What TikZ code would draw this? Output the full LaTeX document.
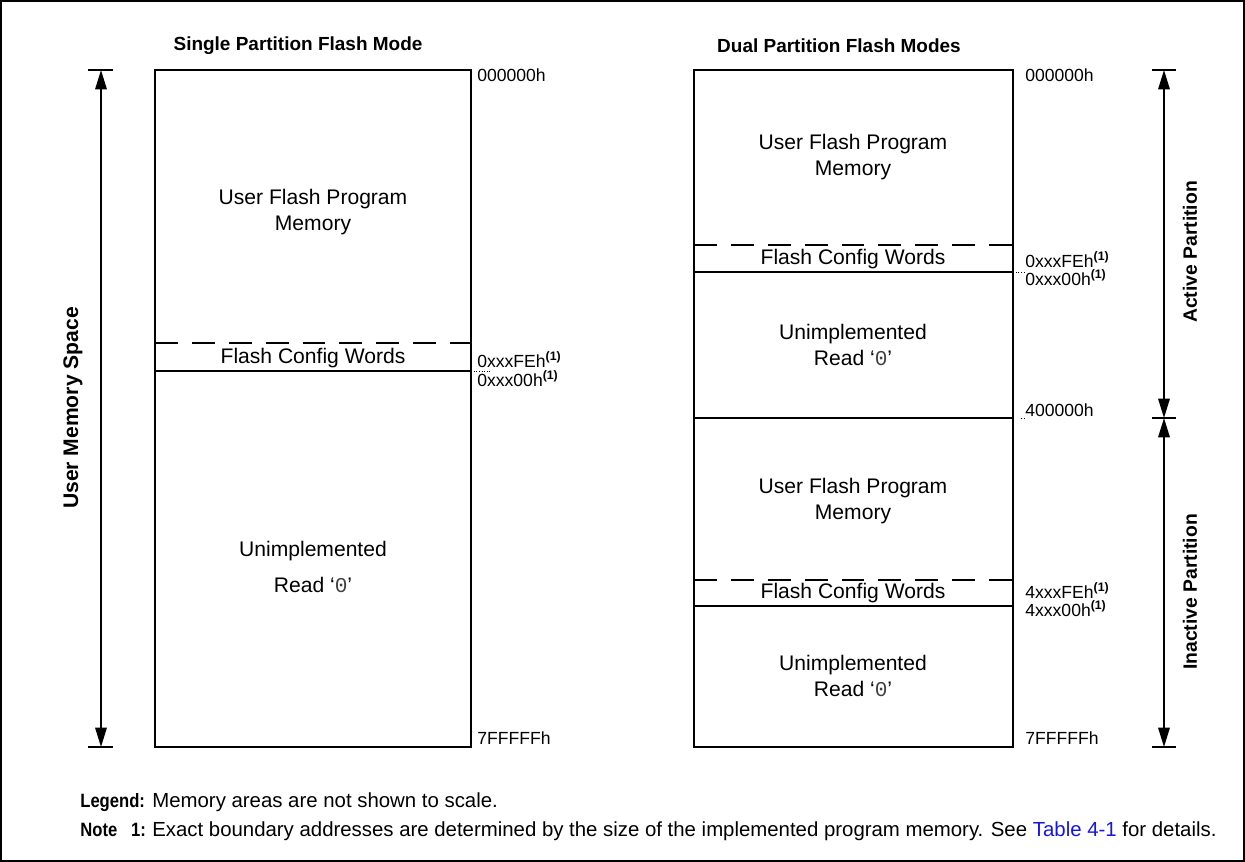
\documentclass[tikz,border=0pt]{standalone}
\usepackage{fontspec}
\setmainfont{Liberation Sans}
\newfontfamily\monofont{Liberation Mono}
\usepackage{xcolor}
\usepackage{graphicx}
\usetikzlibrary{arrows.meta}
\definecolor{linkblue}{RGB}{20,20,235}
\newcommand{\fnote}{\textsuperscript{\textbf{(1)}}}
\newcommand{\readzero}{Read `{\monofont\color{black!75}0}'}
\newcommand{\legkey}[1]{\scalebox{0.86}[1]{\textbf{#1}}}
\tikzset{
    memnode/.style = {align=center, inner sep=0pt, text centered},
    region_txt/.style = {memnode, font=\fontsize{12}{15}\selectfont},
    addr_txt/.style = {inner sep=0pt, anchor=base west, font=\fontsize{10}{12}\selectfont},
    title_txt/.style = {memnode, font=\bfseries\fontsize{10.8}{13}\selectfont},
    side_txt/.style = {memnode, rotate=90, font=\bfseries\fontsize{11}{13}\selectfont},
    legend_txt/.style = {inner sep=0pt, anchor=base west, font=\fontsize{11.6}{13}\selectfont},
    legend_key/.style = {legend_txt, font=\fontsize{11}{13}\selectfont},
    mem_box/.style = {draw=black, line width=1.1pt},
    cut_line/.style = {line width=1.1pt},
    cfg_line/.style = {line width=1.1pt, dash pattern=on 13pt off 8pt},
    leader/.style = {line width=0.5pt, densely dotted},
    span/.style = {line width=1.1pt, {Triangle[length=11pt,width=6.5pt]}-{Triangle[length=11pt,width=6.5pt]}},
    bar/.style = {line width=1.1pt}
}
\begin{document}
\begin{tikzpicture}[x=0.02cm, y=-0.02cm]
    \useasboundingbox (0,0) rectangle (1245,862);
    \draw[line width=0.8pt] (1,1) rectangle (1244,861);

    % titles
    \node[title_txt] (t_single) at (298,46) {Single Partition Flash Mode};
    \node[title_txt] (t_dual) at (839,46) {Dual Partition Flash Modes};

    % single partition map
    \draw[mem_box] (155,70) rectangle (471,747);
    \coordinate (s_cfg_w) at (155,343);
    \coordinate (s_cfg_e) at (471,343);
    \coordinate (s_top_w) at (155,371);
    \coordinate (s_top_e) at (471,371);
    \draw[cfg_line] (s_cfg_w) -- (s_cfg_e);
    \draw[cut_line] (s_top_w) -- (s_top_e);
    \node[region_txt] (s_user) at (313,212) {User Flash Program\\Memory};
    \node[region_txt] (s_cfg) at (313,358) {Flash Config Words};
    \node[region_txt] (s_unimp) at (313,551) {Unimplemented};
    \node[region_txt] (s_read) at (313,585) {\readzero};

    \node[addr_txt] (s_a0) at (477,81) {000000h};
    \node[addr_txt] (s_a1) at (477,367) {0xxxFEh\fnote};
    \node[addr_txt] (s_a2) at (477,386) {0xxx00h\fnote};
    \node[addr_txt] (s_a3) at (477,744) {7FFFFFh};
    \draw[leader] (s_top_e) -- (491,371);

    % user memory span
    \coordinate (u_top) at (101,70);
    \coordinate (u_bot) at (101,747);
    \draw[bar] (88,70) -- (113,70);
    \draw[bar] (88,747) -- (113,747);
    \draw[span] (u_top) -- (u_bot);
    \node[side_txt, font=\bfseries\fontsize{12}{14}\selectfont] (u_lbl) at (73,408) {User Memory Space};

    % dual partition map
    \draw[mem_box] (694,70) rectangle (1013,747);
    \coordinate (d_cfg1_w) at (694,245);
    \coordinate (d_cfg1_e) at (1013,245);
    \coordinate (d_top1_w) at (694,272);
    \coordinate (d_top1_e) at (1013,272);
    \coordinate (d_mid_w) at (694,418);
    \coordinate (d_mid_e) at (1013,418);
    \coordinate (d_cfg2_w) at (694,580);
    \coordinate (d_cfg2_e) at (1013,580);
    \coordinate (d_top2_w) at (694,606);
    \coordinate (d_top2_e) at (1013,606);
    \draw[cfg_line] (d_cfg1_w) -- (d_cfg1_e);
    \draw[cut_line] (d_top1_w) -- (d_top1_e);
    \draw[cut_line] (d_mid_w) -- (d_mid_e);
    \draw[cfg_line] (d_cfg2_w) -- (d_cfg2_e);
    \draw[cut_line] (d_top2_w) -- (d_top2_e);

    \node[region_txt] (d_user1) at (853,157) {User Flash Program\\Memory};
    \node[region_txt] (d_cfg1) at (853,259) {Flash Config Words};
    \node[region_txt] (d_unimp1) at (853,345) {Unimplemented\\\readzero};
    \node[region_txt] (d_user2) at (853,501) {User Flash Program\\Memory};
    \node[region_txt] (d_cfg2) at (853,593) {Flash Config Words};
    \node[region_txt] (d_unimp2) at (853,676) {Unimplemented\\\readzero};

    \node[addr_txt] (d_a0) at (1025,81) {000000h};
    \node[addr_txt] (d_a1) at (1025,267) {0xxxFEh\fnote};
    \node[addr_txt] (d_a2) at (1025,285) {0xxx00h\fnote};
    \node[addr_txt] (d_a3) at (1025,416) {400000h};
    \node[addr_txt] (d_a4) at (1025,598) {4xxxFEh\fnote};
    \node[addr_txt] (d_a5) at (1025,616) {4xxx00h\fnote};
    \node[addr_txt] (d_a6) at (1025,744) {7FFFFFh};
    \draw[leader] (d_top1_e) -- (1025,272);
    \draw[leader] (1021,418) -- (1025,418);

    % partition spans
    \coordinate (p_top) at (1164,70);
    \coordinate (p_mid) at (1164,418);
    \coordinate (p_bot) at (1164,747);
    \draw[bar] (1152,70) -- (1176,70);
    \draw[bar] (1152,418) -- (1176,418);
    \draw[bar] (1152,747) -- (1176,747);
    \draw[span] (p_top) -- (p_mid);
    \draw[span] (p_mid) -- (p_bot);
    \node[side_txt] (p_act) at (1190,252) {Active Partition};
    \node[side_txt] (p_inact) at (1190,592) {Inactive Partition};

    % legend and note
    \node[legend_key] (lg_key) at (80,807) {\legkey{Legend:}};
    \node[legend_txt] (lg_txt) at (152,807) {Memory areas are not shown to scale.};
    \node[legend_key] (nt_key) at (80,836) {\legkey{Note\ \ \ 1:}};
    \node[legend_txt] (nt_txt) at (152,836) {Exact boundary addresses are determined by the size of the implemented program memory. See \textcolor{linkblue}{Table 4-1} for details.};
\end{tikzpicture}
\end{document}
